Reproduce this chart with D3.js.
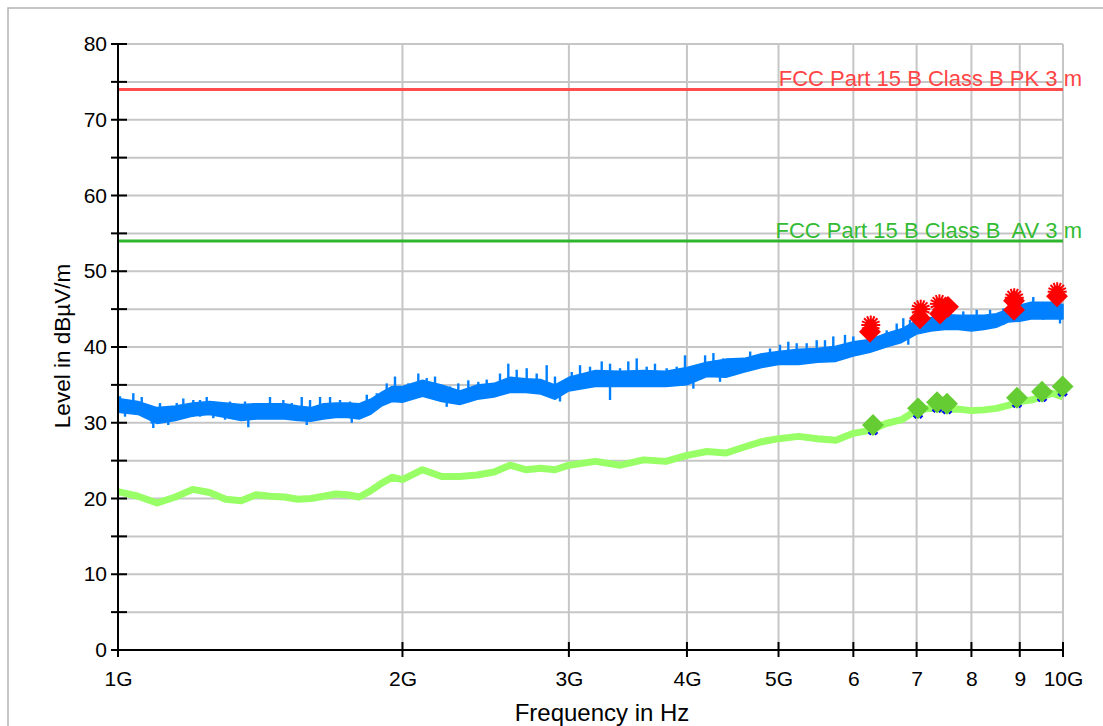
<!DOCTYPE html>
<html>
<head>
<meta charset="utf-8">
<script src="https://cdn.jsdelivr.net/npm/d3@7"></script>
<style>
  body { margin: 0; background: #fff; }
  svg { display: block; font-family: Arial, "Liberation Sans", sans-serif; }
  text.limit { white-space: pre; }
</style>
</head>
<body>
<svg id="chart" width="1103" height="726"></svg>
<script>
// ---- Sweep data (frequency in GHz, levels in dBµV/m) ----
const freqGHz = [
  1.00, 1.05, 1.10, 1.15, 1.20, 1.25, 1.30, 1.35, 1.40, 1.45, 1.50, 1.55, 1.60, 1.65, 1.70, 1.75, 1.80, 1.85, 1.90, 1.95, 2.00,
  2.1, 2.2, 2.3, 2.4, 2.5, 2.6, 2.7, 2.8, 2.9, 3.0, 3.2, 3.4, 3.6, 3.8, 4.0,
  4.2, 4.4, 4.6, 4.8, 5.0, 5.25, 5.5, 5.75, 6.0, 6.25, 6.5, 6.75, 7.0, 7.25, 7.5, 7.75, 8.0, 8.25, 8.5, 8.75, 9.0, 9.25, 9.5, 9.75, 10.0
];
// Peak detector trace: upper and lower edge of the noise band
const peakHi = [
  33.2, 32.8, 32.0, 32.2, 32.6, 32.8, 32.6, 32.4, 32.5, 32.5, 32.5, 32.2, 32.0, 32.5, 32.6, 32.6, 32.5, 33.1, 34.0, 34.8, 34.8,
  35.6, 35.0, 34.2, 35.0, 35.2, 36.0, 35.8, 35.7, 35.0, 36.0, 36.9, 36.8, 36.9, 36.8, 37.3,
  38.0, 38.4, 38.5, 39.1, 39.4, 39.7, 39.8, 40.1, 40.7, 41.0, 41.8, 42.4, 43.5, 43.9, 44.3, 44.2, 44.2, 44.2, 44.4, 45.0, 45.5, 45.9, 45.9, 45.9, 45.6
];
const peakLo = [
  31.4, 31.1, 29.9, 30.3, 30.9, 31.1, 30.7, 30.3, 30.5, 30.5, 30.5, 30.3, 30.2, 30.5, 30.7, 30.7, 30.5, 31.1, 32.2, 32.8, 32.7,
  33.5, 32.8, 32.4, 33.1, 33.4, 34.0, 34.0, 33.8, 33.1, 34.2, 34.8, 34.8, 34.8, 34.8, 35.0,
  36.1, 36.0, 36.7, 37.3, 37.7, 37.7, 38.0, 38.1, 38.8, 39.3, 40.0, 40.6, 41.7, 42.1, 42.3, 42.3, 42.1, 42.3, 42.6, 43.3, 43.4, 43.7, 43.7, 43.7, 43.7
];
// Average detector trace
const avgStartLevel = 25.0;
const avgLevel = [
  20.9, 20.3, 19.4, 20.2, 21.2, 20.8, 19.9, 19.7, 20.5, 20.3, 20.2, 19.9, 20.0, 20.3, 20.6, 20.5, 20.2, 21.0, 22.0, 22.8, 22.5,
  23.8, 22.9, 22.9, 23.1, 23.5, 24.4, 23.8, 24.0, 23.8, 24.4, 24.9, 24.4, 25.1, 24.9, 25.7,
  26.2, 26.0, 26.8, 27.5, 27.9, 28.2, 27.9, 27.7, 28.6, 29.0, 29.9, 30.4, 31.7, 31.9, 31.7, 31.8, 31.6, 31.7, 31.9, 32.3, 32.8, 33.0, 33.4, 33.9, 33.4
];

// Peak excursions above the band
const spikeUpFreqGHz = [
  1.0049, 1.0172, 1.0380, 1.0595, 1.0856, 1.1077, 1.1303, 1.1538, 1.1725, 1.2014, 1.2212, 1.2413, 1.2614, 1.2979, 1.3138,
  1.3627, 1.3905, 1.4483, 1.4961, 1.5271, 1.5647, 1.5967, 1.6361, 1.6764, 1.7178, 1.7602, 1.8334, 1.8786, 1.9246, 1.9639, 2.0286,
  2.0787, 2.1217, 2.1651, 2.2456, 2.2915, 2.3480, 2.4059, 2.4556, 2.5364, 2.5883, 2.6417, 2.7070, 2.7737, 2.8421, 2.9001,
  3.0210, 3.0827, 3.1587, 3.2500, 3.3164, 3.3982, 3.4674, 3.5391, 3.6263, 3.7004, 3.8074, 3.9013, 3.9811, 4.0795,
  4.1809, 4.2664, 4.3716, 4.4794, 4.6663, 4.8973, 5.0181, 5.1206, 5.2265, 5.3552, 5.4872, 5.5993, 5.7138, 5.8790, 5.9992,
  6.5078, 6.6683, 6.7765, 6.8880, 7.8433, 8.1033, 8.3718, 8.6483, 9.3017, 9.5316, 9.9273
];
const spikeUpLevel = [
  33.5, 33.0, 33.9, 33.4, 32.1, 32.6, 31.9, 32.6, 33.2, 33.0, 33.0, 33.4, 32.8, 32.6, 32.8,
  32.8, 32.6, 33.4, 33.0, 32.6, 33.4, 33.0, 33.4, 33.4, 33.0, 32.8, 33.7, 33.9, 35.2, 36.1, 35.2,
  36.5, 35.9, 36.1, 34.8, 35.2, 35.6, 35.4, 35.7, 36.5, 37.8, 37.0, 37.2, 36.5, 37.6, 36.1,
  36.7, 37.6, 37.4, 38.1, 37.8, 37.2, 38.1, 38.5, 37.4, 37.8, 37.2, 37.4, 38.9, 37.6,
  38.9, 39.2, 38.5, 38.5, 39.4, 39.8, 40.3, 40.7, 40.5, 40.5, 40.9, 40.9, 41.4, 41.6, 41.4,
  42.2, 43.1, 43.8, 43.6, 44.7, 44.9, 44.9, 45.1, 46.6, 45.8, 45.3
];
// Excursions below the band
const spikeDownFreqGHz = [1.0898, 1.3737, 1.5839, 1.7675, 2.2276, 2.9357, 3.3164, 4.0630, 4.3356, 6.8596];
const spikeDownLevel   = [29.3, 29.4, 29.7, 30.0, 32.1, 32.8, 33.0, 34.5, 35.4, 40.3];

// Final measurement results
const pkFinalFreqGHz = [6.248, 7.058, 7.411, 7.556, 8.875, 8.875, 9.855];
const pkFinalLevel   = [42.0, 43.8, 44.4, 45.3, 46.1, 44.9, 46.7];
const pkMaxFreqGHz   = [6.26, 7.07, 7.40, 8.88, 9.86];
const pkMaxLevel     = [42.9, 45.0, 45.7, 46.5, 47.3];
const avFinalFreqGHz = [6.294, 7.024, 7.357, 7.538, 8.940, 9.501, 9.99];
const avFinalLevel   = [29.7, 31.9, 32.7, 32.5, 33.3, 34.1, 34.8];
const avTraceMark    = [29.0, 31.2, 32.0, 31.8, 32.6, 33.4, 34.1];

// Limits
const limitPK = 74;
const limitAV = 54;
const limitPKLabel = "FCC Part 15 B Class B PK 3 m";
const limitAVLabel = "FCC Part 15 B Class B  AV 3 m";

// Axes
const yTickValues = [0, 10, 20, 30, 40, 50, 60, 70, 80];
const yMinorValues = [5, 15, 25, 35, 45, 55, 65, 75];
const xTickGHz = [1, 2, 3, 4, 5, 6, 7, 8, 9, 10];
const xTickLabels = ["1G", "2G", "3G", "4G", "5G", "6", "7", "8", "9", "10G"];
const xTitle = "Frequency in Hz";
const yTitle = "Level in dBµV/m";

// ---- Drawing ----
const svg = d3.select("#chart");
const plotL = 118, plotR = 1063, plotT = 44, plotB = 650;

const x = d3.scaleLog().domain([1e9, 1e10]).range([plotL, plotR]);
const y = d3.scaleLinear().domain([0, 80]).range([plotB, plotT]);
const hz = g => g * 1e9;

// outer frame
svg.append("rect")
  .attr("x", 8).attr("y", 8).attr("width", 1120).attr("height", 760)
  .attr("fill", "none").attr("stroke", "#b4b4b4").attr("stroke-width", 1.5);

// grid
const grid = svg.append("g").attr("stroke", "#c6c6c6").attr("stroke-width", 2);
grid.selectAll("line.h")
  .data(d3.range(5, 81, 5))
  .join("line").attr("class", "h")
  .attr("x1", plotL).attr("x2", plotR)
  .attr("y1", d => y(d)).attr("y2", d => y(d));
grid.selectAll("line.v")
  .data(xTickGHz.slice(1))
  .join("line").attr("class", "v")
  .attr("x1", d => x(hz(d))).attr("x2", d => x(hz(d)))
  .attr("y1", plotT).attr("y2", plotB);

// limit lines
const limits = [
  { v: limitPK, label: limitPKLabel, line: "#ff4d4d", text: "#ff4545" },
  { v: limitAV, label: limitAVLabel, line: "#2fb52f", text: "#33bb33" }
];
svg.selectAll("line.limit").data(limits).join("line")
  .attr("class", "limit")
  .attr("x1", plotL).attr("x2", plotR)
  .attr("y1", d => y(d.v)).attr("y2", d => y(d.v))
  .attr("stroke", d => d.line).attr("stroke-width", 3);

// traces
const idx = d3.range(freqGHz.length);
const band = d3.area()
  .x(i => x(hz(freqGHz[i])))
  .y0(i => y(peakLo[i]))
  .y1(i => y(peakHi[i]));
const avgLine = d3.line()
  .x(i => x(hz(freqGHz[i])))
  .y(i => y(avgLevel[i]));

// average trace: start transient, then the sweep
svg.append("line")
  .attr("x1", x(hz(freqGHz[0]))).attr("x2", x(hz(freqGHz[0])))
  .attr("y1", y(avgStartLevel)).attr("y2", y(avgLevel[0]))
  .attr("stroke", "#99ff66").attr("stroke-width", 1.5);
svg.append("path")
  .attr("d", avgLine(idx))
  .attr("fill", "none").attr("stroke", "#99ff66").attr("stroke-width", 7)
  .attr("stroke-linejoin", "round");

// peak trace band with its excursions
svg.append("path")
  .attr("d", band(idx))
  .attr("fill", "#0080ff").attr("stroke", "#0080ff").attr("stroke-width", 1.5)
  .attr("stroke-linejoin", "round");

const spikes = svg.append("g").attr("stroke", "#0080ff").attr("stroke-width", 2.4);
spikes.selectAll("line.up")
  .data(d3.range(spikeUpFreqGHz.length))
  .join("line").attr("class", "up")
  .attr("x1", i => x(hz(spikeUpFreqGHz[i]))).attr("x2", i => x(hz(spikeUpFreqGHz[i])))
  .attr("y1", i => y(spikeUpLevel[i])).attr("y2", i => y(spikeUpLevel[i] - 2.2));
spikes.selectAll("line.down")
  .data(d3.range(spikeDownFreqGHz.length))
  .join("line").attr("class", "down")
  .attr("x1", i => x(hz(spikeDownFreqGHz[i]))).attr("x2", i => x(hz(spikeDownFreqGHz[i])))
  .attr("y1", i => y(spikeDownLevel[i])).attr("y2", i => y(spikeDownLevel[i] + 2.2));

// axes
const yAxis = d3.axisLeft(y).tickValues(yTickValues).tickSize(0).tickPadding(11);
const gy = svg.append("g").attr("transform", `translate(${plotL},0)`).call(yAxis);
gy.select(".domain").remove();
gy.selectAll("text").attr("font-size", 21).attr("fill", "#000")
  .attr("font-family", "Arial, 'Liberation Sans', sans-serif");

const xAxis = d3.axisBottom(x).tickValues(xTickGHz.map(hz))
  .tickFormat((d, i) => xTickLabels[i]).tickSize(0).tickPadding(21);
const gx = svg.append("g").attr("transform", `translate(0,${plotB})`).call(xAxis);
gx.select(".domain").remove();
gx.selectAll("text").attr("font-size", 21).attr("fill", "#000")
  .attr("font-family", "Arial, 'Liberation Sans', sans-serif");

const axisG = svg.append("g").attr("stroke", "#000").attr("stroke-width", 2);
axisG.append("line").attr("x1", plotL).attr("x2", plotL).attr("y1", plotT - 1).attr("y2", plotB + 7);
axisG.append("line").attr("x1", plotL - 7).attr("x2", plotR).attr("y1", plotB).attr("y2", plotB);
axisG.selectAll("line.yt").data(yTickValues.concat(yMinorValues)).join("line")
  .attr("class", "yt")
  .attr("x1", plotL - 7).attr("x2", plotL + 9)
  .attr("y1", d => y(d)).attr("y2", d => y(d));
axisG.selectAll("line.xt").data(xTickGHz).join("line")
  .attr("class", "xt")
  .attr("x1", d => x(hz(d))).attr("x2", d => x(hz(d)))
  .attr("y1", plotB - 8).attr("y2", plotB + 7);

// limit labels
svg.selectAll("text.limit").data(limits).join("text")
  .attr("class", "limit")
  .attr("x", plotR + 19).attr("y", d => y(d.v) - 3)
  .attr("text-anchor", "end")
  .attr("font-size", 22)
  .attr("fill", d => d.text)
  .attr("xml:space", "preserve")
  .text(d => d.label);

// markers
const diamond = d3.symbol().type(d3.symbolSquare).size(240);
const crossX = d3.symbol().type(d3.symbolCross).size(70);

// peak maximum asterisks
const stars = svg.append("g");
pkMaxFreqGHz.forEach((f, i) => {
  const cx = x(hz(f)), cy = y(pkMaxLevel[i]);
  const g = stars.append("g").attr("transform", `translate(${cx},${cy})`);
  g.append("circle").attr("r", 6).attr("fill", "#ff0000");
  d3.range(0, 180, 22.5).forEach(a => {
    const r = 9.5, t = a * Math.PI / 180;
    g.append("line")
      .attr("x1", -r * Math.cos(t)).attr("y1", -r * Math.sin(t))
      .attr("x2", r * Math.cos(t)).attr("y2", r * Math.sin(t))
      .attr("stroke", "#ff0000").attr("stroke-width", 2);
  });
});

svg.append("g").selectAll("path")
  .data(d3.range(pkFinalFreqGHz.length))
  .join("path")
  .attr("d", diamond)
  .attr("transform", i => `translate(${x(hz(pkFinalFreqGHz[i]))},${y(pkFinalLevel[i])}) rotate(45)`)
  .attr("fill", "#ff0000");

svg.append("g").selectAll("path")
  .data(d3.range(avFinalFreqGHz.length))
  .join("path")
  .attr("d", crossX)
  .attr("transform", i => `translate(${x(hz(avFinalFreqGHz[i]))},${y(avTraceMark[i])}) rotate(45)`)
  .attr("fill", "#0000ff");

svg.append("g").selectAll("path")
  .data(d3.range(avFinalFreqGHz.length))
  .join("path")
  .attr("d", diamond)
  .attr("transform", i => `translate(${x(hz(avFinalFreqGHz[i]))},${y(avFinalLevel[i])}) rotate(45)`)
  .attr("fill", "#66cc33");

// axis titles
svg.append("text")
  .attr("x", 602).attr("y", 721)
  .attr("text-anchor", "middle").attr("font-size", 24)
  .text(xTitle);
svg.append("text")
  .attr("transform", `translate(70,346) rotate(-90)`)
  .attr("text-anchor", "middle").attr("font-size", 22.5)
  .text(yTitle);
</script>
</body>
</html>
